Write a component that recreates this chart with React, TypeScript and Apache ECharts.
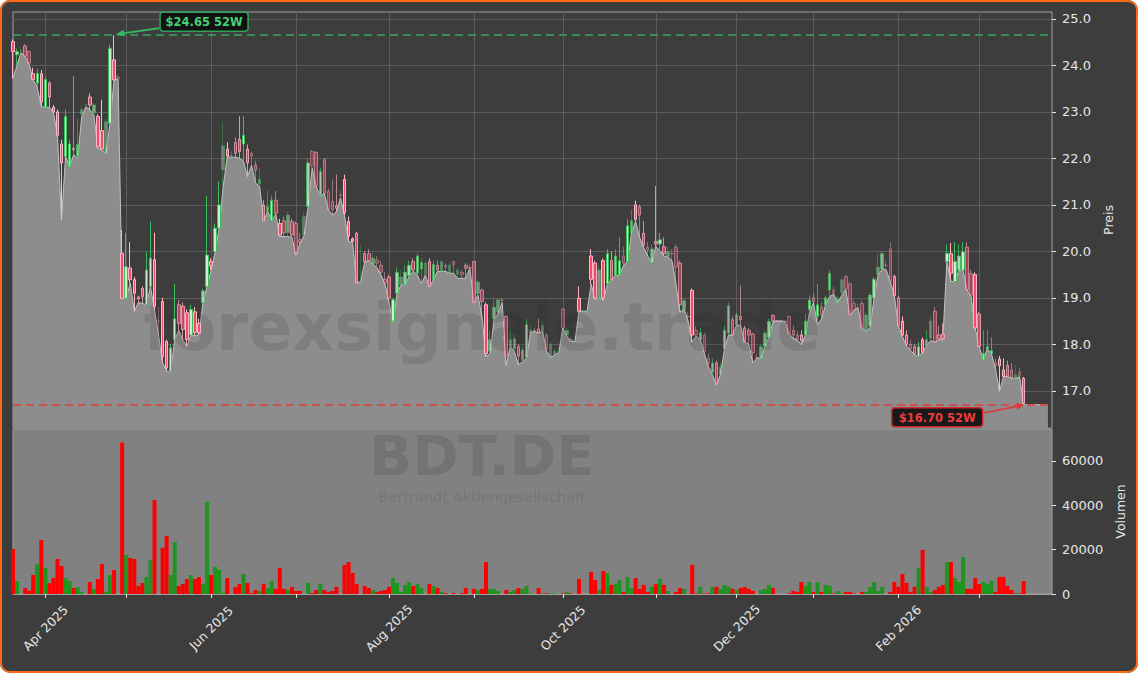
import React, { useEffect, useRef } from 'react';
import * as echarts from 'echarts';

// ---------- data ----------
const START_DATE = '2025-03-20';
const HOLIDAYS = ['2025-04-18', '2025-04-21', '2025-05-01', '2025-12-24', '2025-12-25', '2025-12-26', '2025-12-31', '2026-01-01'];
const FUTURE_SLOTS = 7;
const MONTHS = ['Jan', 'Feb', 'Mar', 'Apr', 'May', 'Jun', 'Jul', 'Aug', 'Sep', 'Oct', 'Nov', 'Dec'];
const priceTicks = [17, 18, 19, 20, 21, 22, 23, 24, 25];
const volumeTicks = [0, 20000, 40000, 60000];

const opens = [
  24.51, 24.23, 24.32, 24.42, 24.30, 23.82, 23.62, 23.82, 23.10, 23.62,
  23.10, 23.00, 22.31, 22.04, 21.82, 22.22, 22.05, 22.95, 23.15, 23.32,
  22.98, 22.90, 22.60, 22.11, 22.76, 24.12, 23.75, 19.96, 18.99, 19.64,
  19.39, 19.02, 19.20, 18.85, 19.24, 19.82, 18.50, 18.92, 18.06, 17.42,
  18.10, 18.85, 18.82, 18.68, 18.20, 18.70, 18.45, 18.90, 19.24, 19.78,
  19.99, 20.50, 21.75, 22.20, 22.06, 22.34, 22.41, 22.31, 22.20, 22.11,
  21.86, 21.45, 20.99, 20.86, 20.66, 21.10, 20.60, 20.66, 20.40, 20.64,
  20.60, 20.25, 20.35, 20.97, 22.15, 22.13, 21.22, 21.97, 21.29, 21.07,
  20.98, 21.22, 21.55, 20.64, 20.27, 20.39, 19.55, 19.95, 19.95, 19.72,
  19.81, 19.70, 19.40, 19.45, 18.50, 19.10, 19.28, 19.30, 19.48, 19.78,
  19.53, 19.62, 19.50, 19.78, 19.39, 19.70, 19.57, 19.70, 19.53, 19.78,
  19.50, 19.55, 19.70, 19.66, 19.78, 19.09, 19.17, 18.85, 17.85, 18.55,
  18.70, 18.95, 18.60, 17.95, 17.90, 17.95, 17.65, 17.72, 18.25, 18.30,
  18.33, 18.28, 18.20, 17.72, 17.80, 17.85, 18.76, 18.20, 18.10, 18.08,
  18.99, 18.72, 18.72, 19.90, 19.75, 19.00, 19.80, 19.30, 19.80, 19.48,
  19.50, 19.90, 19.78, 20.39, 21.00, 20.96, 20.39, 20.09, 19.76, 20.21,
  20.16, 20.10, 19.89, 19.95, 20.09, 19.75, 18.75, 18.60, 19.16, 18.30,
  18.10, 18.20, 17.70, 17.40, 17.60, 17.35, 17.90, 18.24, 18.53, 18.42,
  18.60, 18.35, 18.30, 18.22, 17.72, 17.70, 17.96, 18.15, 18.62, 18.51,
  18.51, 18.50, 18.60, 18.30, 18.20, 18.20, 18.20, 18.75, 19.00, 18.60,
  18.80, 18.85, 19.17, 19.17, 18.90, 19.11, 19.46, 19.30, 18.88, 18.85,
  18.88, 18.30, 18.40, 19.00, 19.50, 19.62, 19.70, 20.05, 19.46, 19.00,
  18.50, 18.20, 18.00, 17.95, 17.74, 18.10, 17.98, 18.13, 18.71, 18.20,
  18.22, 19.78, 19.95, 19.35, 19.60, 19.60, 20.09, 19.52, 19.50, 18.65,
  17.67, 17.90, 17.80, 17.60, 17.68, 17.45, 17.55, 17.45, 17.27, 17.40,
  17.27,
];

const closes = [
  24.30, 24.30, 24.32, 24.20, 24.05, 23.70, 23.83, 23.22, 23.70, 23.32,
  23.00, 22.50, 21.90, 22.90, 22.31, 22.18, 22.30, 23.05, 23.15, 23.15,
  23.15, 22.25, 22.20, 22.79, 24.37, 23.69, 23.72, 18.99, 19.67, 19.39,
  19.10, 18.98, 19.03, 19.60, 19.85, 18.82, 18.50, 17.74, 17.49, 17.92,
  18.55, 18.45, 18.32, 18.10, 18.75, 18.25, 18.25, 19.15, 19.92, 19.69,
  20.50, 21.00, 22.27, 22.05, 22.05, 22.11, 22.15, 22.50, 21.90, 22.05,
  21.75, 21.55, 20.66, 20.96, 21.10, 20.82, 20.35, 20.40, 20.78, 20.35,
  19.95, 20.20, 20.75, 21.90, 21.84, 21.40, 21.72, 21.25, 20.90, 20.90,
  20.93, 21.20, 20.83, 20.33, 20.22, 19.32, 19.55, 19.78, 19.80, 19.85,
  19.75, 19.55, 19.32, 19.00, 18.96, 19.55, 19.45, 19.55, 19.70, 19.60,
  19.90, 19.76, 19.75, 19.25, 19.72, 19.60, 19.78, 19.66, 19.71, 19.72,
  19.60, 19.50, 19.64, 19.64, 18.90, 19.34, 18.92, 17.80, 18.10, 18.80,
  18.96, 18.95, 17.75, 18.10, 18.12, 17.75, 17.88, 18.42, 18.31, 18.30,
  18.25, 18.40, 17.90, 17.99, 17.85, 17.85, 18.35, 18.30, 18.06, 18.08,
  18.71, 18.72, 18.72, 19.40, 19.00, 19.60, 19.00, 19.95, 19.39, 19.90,
  19.80, 19.75, 20.55, 20.66, 20.69, 20.78, 20.14, 20.03, 20.05, 20.16,
  20.25, 19.95, 19.99, 19.95, 19.66, 18.85, 18.94, 18.60, 18.20, 18.20,
  18.25, 17.85, 17.60, 17.60, 17.15, 17.50, 18.30, 18.83, 18.20, 18.64,
  18.53, 18.05, 18.20, 17.82, 17.72, 17.95, 18.24, 18.49, 18.51, 18.50,
  18.50, 18.49, 18.23, 18.20, 18.12, 18.08, 18.50, 18.95, 18.92, 18.85,
  18.63, 19.00, 19.53, 19.10, 18.99, 19.39, 19.19, 18.63, 18.73, 18.85,
  18.35, 18.63, 19.06, 19.40, 19.66, 19.95, 19.70, 19.35, 19.05, 18.40,
  18.20, 18.00, 17.90, 17.80, 17.95, 17.82, 18.10, 18.50, 18.05, 18.12,
  18.12, 19.96, 19.53, 19.78, 19.90, 19.99, 19.17, 19.06, 18.35, 17.95,
  17.80, 17.95, 17.86, 17.55, 17.54, 17.31, 17.31, 17.28, 17.35, 17.32,
  16.73,
];

const lows = [
  23.72, 24.00, 24.28, 24.19, 24.03, 23.69, 23.54, 23.11, 23.10, 23.10,
  23.00, 22.50, 20.68, 22.04, 21.82, 22.08, 22.00, 22.90, 23.11, 23.05,
  22.94, 22.22, 22.18, 22.11, 22.76, 23.69, 23.70, 18.99, 18.99, 19.32,
  18.71, 18.90, 18.88, 18.85, 19.24, 18.74, 18.20, 17.60, 17.42, 17.42,
  18.10, 18.30, 18.10, 17.95, 18.20, 18.18, 18.22, 18.90, 19.24, 19.60,
  19.99, 20.50, 21.40, 22.04, 22.02, 22.03, 22.00, 21.95, 21.61, 21.85,
  21.47, 21.40, 20.66, 20.86, 20.66, 20.80, 20.32, 20.32, 20.32, 20.30,
  19.92, 20.18, 20.34, 20.96, 21.80, 21.40, 21.18, 21.25, 20.90, 20.78,
  20.85, 21.15, 20.78, 20.21, 20.20, 19.32, 19.35, 19.78, 19.80, 19.72,
  19.65, 19.50, 19.30, 18.90, 18.46, 19.10, 19.28, 19.28, 19.46, 19.57,
  19.50, 19.30, 19.49, 19.24, 19.39, 19.57, 19.57, 19.57, 19.53, 19.53,
  19.42, 19.42, 19.42, 19.64, 18.89, 19.06, 18.60, 17.74, 17.80, 18.53,
  18.67, 18.90, 17.55, 17.95, 17.85, 17.56, 17.62, 17.70, 18.25, 18.28,
  18.24, 18.28, 17.85, 17.72, 17.78, 17.82, 18.35, 18.18, 18.06, 18.06,
  18.71, 18.71, 18.71, 19.30, 18.96, 19.00, 18.95, 19.28, 19.39, 19.48,
  19.48, 19.70, 19.78, 20.39, 20.65, 20.30, 20.08, 19.90, 19.76, 20.10,
  20.02, 19.90, 19.88, 19.80, 19.30, 18.70, 18.75, 18.50, 18.05, 18.18,
  18.10, 17.80, 17.52, 17.35, 17.12, 17.35, 17.90, 18.20, 18.20, 18.42,
  18.40, 18.05, 18.00, 17.60, 17.70, 17.70, 17.96, 18.15, 18.49, 18.50,
  18.50, 18.49, 18.23, 18.13, 18.10, 17.99, 18.20, 18.67, 18.90, 18.42,
  18.55, 18.85, 19.03, 19.08, 18.90, 19.05, 19.19, 18.63, 18.73, 18.80,
  18.35, 18.28, 18.35, 19.00, 19.50, 19.62, 19.60, 19.35, 19.05, 18.40,
  18.17, 17.97, 17.87, 17.78, 17.74, 17.82, 17.98, 18.08, 18.05, 18.10,
  18.10, 19.78, 19.35, 19.35, 19.60, 19.60, 19.17, 19.03, 18.35, 17.95,
  17.67, 17.90, 17.80, 17.49, 16.99, 17.30, 17.31, 17.27, 17.27, 17.30,
  16.70,
];

const highs = [
  24.56, 24.36, 24.40, 24.46, 24.32, 23.95, 23.92, 23.90, 23.76, 23.66,
  23.15, 23.05, 22.40, 23.05, 22.40, 23.77, 22.85, 23.10, 23.20, 23.40,
  23.20, 22.95, 23.26, 22.85, 24.45, 24.65, 23.80, 20.46, 20.40, 20.20,
  19.45, 19.05, 19.25, 19.99, 20.64, 20.40, 18.80, 19.00, 18.10, 18.00,
  19.30, 18.95, 18.90, 18.75, 18.85, 18.80, 18.55, 19.20, 21.20, 19.85,
  20.60, 21.50, 22.79, 22.35, 22.15, 22.45, 22.91, 22.91, 22.30, 22.15,
  21.95, 21.80, 21.10, 21.30, 21.20, 21.30, 20.70, 20.75, 20.85, 20.70,
  20.65, 20.40, 20.85, 22.00, 22.18, 22.15, 21.80, 22.00, 21.35, 21.55,
  21.65, 21.30, 21.65, 20.75, 20.30, 20.42, 20.15, 20.00, 20.05, 19.95,
  19.90, 19.80, 19.55, 19.50, 19.00, 19.65, 19.60, 19.70, 19.80, 19.85,
  19.95, 19.85, 19.80, 19.85, 19.80, 19.80, 19.80, 19.75, 19.78, 19.80,
  19.65, 19.60, 19.75, 19.72, 19.80, 19.40, 19.20, 18.90, 18.30, 19.00,
  19.00, 19.00, 18.63, 18.30, 18.20, 18.00, 17.95, 18.55, 18.40, 18.35,
  18.55, 18.50, 18.25, 18.05, 17.90, 17.90, 18.78, 18.35, 18.15, 18.12,
  19.25, 18.75, 18.75, 20.05, 19.80, 19.70, 19.85, 20.05, 20.00, 20.05,
  20.30, 20.10, 20.70, 20.90, 21.09, 21.00, 20.65, 20.20, 20.15, 21.41,
  20.40, 20.30, 20.10, 20.05, 20.15, 19.80, 19.00, 18.70, 19.20, 18.40,
  18.35, 18.25, 17.80, 17.70, 17.65, 17.60, 18.40, 18.90, 18.60, 18.70,
  19.26, 18.40, 18.35, 18.25, 17.80, 18.00, 18.30, 18.55, 18.65, 18.52,
  18.52, 18.51, 18.62, 18.40, 18.30, 18.30, 18.65, 19.05, 19.10, 19.30,
  18.90, 19.05, 19.60, 19.25, 19.05, 19.45, 19.50, 19.35, 18.95, 18.90,
  18.95, 18.70, 19.10, 19.45, 19.95, 20.00, 19.80, 20.19, 19.50, 19.05,
  18.60, 18.30, 18.10, 18.00, 18.05, 18.15, 18.30, 18.60, 18.80, 18.40,
  18.45, 20.15, 20.18, 20.20, 20.15, 20.20, 20.20, 19.60, 19.55, 18.70,
  18.30, 18.31, 18.15, 17.70, 17.75, 17.70, 17.65, 17.60, 17.55, 17.50,
  17.30,
];

const volumes = [
  20300, 5900, 0, 2700, 1500, 8600, 13500, 24400, 11700, 4800,
  7200, 15800, 12600, 7200, 5900, 2700, 3200, 900, 0, 5400,
  2300, 6800, 13500, 900, 8600, 10800, 0, 68300, 17600, 16200,
  15800, 3600, 5000, 7700, 15300, 42400, 0, 20800, 26200, 8600,
  23500, 3600, 4500, 6800, 8600, 6800, 7700, 4500, 41500, 8600,
  12200, 10800, 600, 7200, 0, 3200, 4500, 9000, 5000, 450,
  1800, 1350, 4500, 2700, 5900, 2300, 11700, 2300, 1800, 3200,
  1350, 1350, 0, 5000, 450, 1800, 4500, 1800, 900, 1350,
  3200, 0, 13100, 14400, 9500, 4500, 0, 3600, 2700, 1800,
  900, 1350, 1800, 3200, 7200, 5000, 900, 4100, 5400, 3600,
  4500, 2700, 0, 4500, 3600, 2700, 900, 450, 0, 450,
  0, 450, 2700, 0, 2300, 1800, 2300, 14400, 2300, 2300,
  1350, 0, 1800, 900, 1800, 2700, 2300, 3600, 300, 0,
  2700, 300, 400, 300, 300, 0, 300, 900, 300, 0,
  6800, 0, 0, 9900, 6300, 1800, 10400, 9500, 4100, 4500,
  6300, 900, 7700, 2700, 7200, 2300, 4100, 900, 3200, 4500,
  6800, 4100, 1350, 0, 900, 2700, 2300, 0, 13100, 300,
  3200, 300, 300, 3200, 3200, 2300, 4100, 3200, 2300, 1800,
  2700, 3200, 2300, 1350, 0, 1800, 2300, 4100, 2700, 0,
  0, 0, 300, 1350, 900, 5400, 3600, 5400, 900, 5400,
  900, 4100, 3600, 300, 1350, 300, 900, 900, 300, 0,
  900, 900, 3200, 5400, 1350, 3200, 0, 900, 5400, 3200,
  9000, 5000, 900, 3200, 11700, 19900, 3200, 900, 1800, 3200,
  4100, 14400, 14400, 7200, 5400, 16700, 2300, 2300, 7200, 4500,
  5400, 4500, 5900, 900, 7700, 7700, 3600, 1800, 450, 300,
  5900,
];

// last quote carried to the right edge of the price panel
const areaTail = [null, null, null, null, null, 16.70];

// ---------- styles ----------
const FONT = '"DejaVu Sans", "Noto Sans", sans-serif';
const TEXT = '#e6e6e6';
const GRID_LINE = '#5c5c5c';
const FRAME = '#a0a0a0';
const UP_FILL = '#cfeecf';
const UP_BORDER = '#3cbf5a';
const DOWN_FILL = '#f24d6e';
const DOWN_BORDER = '#ffb8c6';
const VOL_UP = '#1f941f';
const VOL_DOWN = '#ff0000';
const WATERMARK = 'rgba(40,40,40,0.15)';

function buildTradingDays(start: string, count: number, holidays: string[]) {
  const out: string[] = [];
  const d = new Date(start + 'T00:00:00Z');
  while (out.length < count) {
    const wd = d.getUTCDay();
    const s = d.toISOString().slice(0, 10);
    if (wd !== 0 && wd !== 6 && holidays.indexOf(s) < 0) out.push(s);
    d.setUTCDate(d.getUTCDate() + 1);
  }
  return out;
}

export default function App() {
  const ref = useRef<HTMLDivElement>(null);

  useEffect(() => {
    document.body.style.margin = '0';
    if (!ref.current) return;
    const chart = echarts.init(ref.current, null, { renderer: 'svg' });

    const dates = buildTradingDays(START_DATE, opens.length + FUTURE_SLOTS, HOLIDAYS);
    const monthStart = new Set<number>();
    for (let i = 1; i < dates.length; i++) {
      if (dates[i].slice(5, 7) !== dates[i - 1].slice(5, 7)) monthStart.add(i);
    }
    const isMonthStart = (i: number) => monthStart.has(i);
    const isLabelMonth = (i: number) => monthStart.has(i) && (parseInt(dates[i].slice(5, 7), 10) - 1) % 2 === 1;

    const candleData = opens.map((o, i) => {
      const c = closes[i];
      const v = volumes[i];
      return {
        value: [o, c, Math.min(lows[i], o, c), Math.max(highs[i], o, c)],
        itemStyle: { opacity: 0.32 + 0.68 * Math.min(1, v / 7000) },
      };
    });
    const volData = volumes.map((v, i) => ({
      value: v,
      itemStyle: { color: closes[i] >= opens[i] ? VOL_UP : VOL_DOWN },
    }));
    const areaData = [...lows, ...areaTail];

    const hiVal = Math.max(...highs);
    const hiIdx = highs.indexOf(hiVal);
    const loVal = Math.min(...lows);
    const loIdx = lows.indexOf(loVal);

    chart.setOption({
      animation: false,
      backgroundColor: 'transparent',
      textStyle: { fontFamily: FONT },
      grid: [
        { left: 13, right: 86, top: 12, height: 416, show: true, borderColor: FRAME, borderWidth: 1, backgroundColor: 'transparent', outerBoundsMode: 'none' },
        { left: 13, right: 86, top: 429, height: 165, show: true, borderColor: FRAME, borderWidth: 1, backgroundColor: '#818181', outerBoundsMode: 'none' },
      ],
      xAxis: [
        {
          type: 'category', gridIndex: 0, data: dates, boundaryGap: false,
          axisLine: { show: false }, axisTick: { show: false }, axisLabel: { show: false },
          splitLine: { show: true, interval: (i: number) => isMonthStart(i), lineStyle: { color: GRID_LINE, width: 1 } },
        },
        {
          type: 'category', gridIndex: 1, data: dates, boundaryGap: false,
          axisLine: { show: true, lineStyle: { color: FRAME } },
          axisTick: { show: true, interval: (i: number) => isMonthStart(i), length: 4, lineStyle: { color: TEXT } },
          axisLabel: {
            interval: (i: number) => isLabelMonth(i), rotate: 45, margin: 34, align: 'center', verticalAlign: 'middle',
            color: TEXT, fontSize: 12.5, fontFamily: FONT,
            formatter: (v: string) => MONTHS[parseInt(v.slice(5, 7), 10) - 1] + ' ' + v.slice(0, 4),
          },
          splitLine: { show: false },
        },
      ],
      yAxis: [
        {
          type: 'value', gridIndex: 0, position: 'right', min: 16.2, max: 25.15, scale: true,
          axisLine: { show: false },
          axisTick: { show: true, customValues: priceTicks, length: 4, lineStyle: { color: TEXT } },
          axisLabel: { customValues: priceTicks, formatter: (v: number) => v.toFixed(1), color: TEXT, fontSize: 13, margin: 10, fontFamily: FONT },
          splitLine: { show: true, lineStyle: { color: GRID_LINE, width: 1 } },
          name: 'Preis', nameLocation: 'middle', nameRotate: 90, nameGap: 48,
          nameTextStyle: { color: TEXT, fontSize: 12.5, fontFamily: FONT },
        },
        {
          type: 'value', gridIndex: 1, position: 'right', min: 0, max: 74400,
          axisLine: { show: false },
          axisTick: { show: true, customValues: volumeTicks, length: 4, lineStyle: { color: TEXT } },
          axisLabel: { customValues: volumeTicks, formatter: (v: number) => String(v), color: TEXT, fontSize: 13, margin: 10, fontFamily: FONT },
          splitLine: { show: false },
          name: 'Volumen', nameLocation: 'middle', nameRotate: 90, nameGap: 60,
          nameTextStyle: { color: TEXT, fontSize: 12.5, fontFamily: FONT },
        },
      ],
      series: [
        {
          type: 'line', name: 'area', xAxisIndex: 0, yAxisIndex: 0, data: areaData,
          symbol: 'none', showSymbol: false, connectNulls: true, silent: true, z: 1,
          lineStyle: { color: '#c2c2c2', width: 1 },
          areaStyle: { color: '#8d8d8d', opacity: 1, origin: 'start' },
        },
        {
          type: 'candlestick', name: 'BDT.DE', xAxisIndex: 0, yAxisIndex: 0, data: candleData,
          barWidth: 3, z: 5,
          itemStyle: { color: UP_FILL, color0: DOWN_FILL, borderColor: UP_BORDER, borderColor0: DOWN_BORDER, borderWidth: 1 },
          markLine: {
            silent: true, symbol: ['none', 'none'], label: { show: false },
            data: [
              { yAxis: hiVal, lineStyle: { color: '#36a85e', type: [8, 5], width: 1.5 } },
              { yAxis: loVal, lineStyle: { color: '#e03c3c', type: [8, 5], width: 1.5 } },
            ],
          },
        },
        {
          type: 'bar', name: 'Volumen', xAxisIndex: 1, yAxisIndex: 1, data: volData, barWidth: 4, z: 3,
        },
      ],
    });

    const hp = chart.convertToPixel({ xAxisIndex: 0, yAxisIndex: 0 }, [hiIdx, hiVal]) as number[];
    const lp = chart.convertToPixel({ xAxisIndex: 0, yAxisIndex: 0 }, [loIdx, loVal]) as number[];

    const arrow = (sx: number, sy: number, tx: number, ty: number, color: string, id: string) => {
      const dx = tx - sx, dy = ty - sy;
      const len = Math.sqrt(dx * dx + dy * dy) || 1;
      const ux = dx / len, uy = dy / len;
      const bx = tx - ux * 8, by = ty - uy * 8;
      const px = -uy * 3.5, py = ux * 3.5;
      return [
        { type: 'line', id: id + '-l', z: 20, shape: { x1: sx, y1: sy, x2: bx, y2: by }, style: { stroke: color, lineWidth: 1.8 } },
        { type: 'polygon', id: id + '-h', z: 20, shape: { points: [[tx, ty], [bx + px, by + py], [bx - px, by - py]] }, style: { fill: color } },
      ];
    };

    const label = (x: number, y: number, w: number, h: number, text: string, color: string, border: string, id: string) => [
      { type: 'rect', id: id + '-b', z: 21, shape: { x, y, width: w, height: h, r: 3 }, style: { fill: 'rgba(12,12,12,0.9)', stroke: border, lineWidth: 1.5 } },
      {
        type: 'text', id: id + '-t', z: 22,
        style: { text, x: x + w / 2, y: y + h / 2 + 0.5, fill: color, font: 'bold 11.5px ' + FONT, textAlign: 'center', textVerticalAlign: 'middle', align: 'center', verticalAlign: 'middle' },
      },
    ];

    const hiBox = { x: hp[0] + 46, y: hp[1] - 23, w: 88, h: 19 };
    const loBox = { x: lp[0] - 132, y: lp[1] + 3, w: 91, h: 19 };

    const wm = (id: string, text: string, x: number, y: number, font: string, lh: number, z: number) => ({
      type: 'text', id, z, silent: true,
      style: { text, x, y, fill: WATERMARK, font, lineHeight: lh, textAlign: 'center', textVerticalAlign: 'middle', align: 'center', verticalAlign: 'middle' },
    });

    chart.setOption({
      graphic: [
        wm('wm1', 'forexsignale.trade', 482, 327, 'bold 65px ' + FONT, 65, 3),
        wm('wm2', 'BDT.DE', 482, 455, 'bold 56px ' + FONT, 50, 4),
        wm('wm3', 'Bertrandt Aktiengesellschaft', 482, 497, '14.5px ' + FONT, 15, 4),
        ...arrow(hiBox.x - 1, hiBox.y + 16, hp[0] + 2, hp[1] - 1, '#36b864', 'ha'),
        ...label(hiBox.x, hiBox.y, hiBox.w, hiBox.h, '$' + hiVal.toFixed(2) + ' 52W', '#44d075', '#2fa35a', 'hl'),
        ...arrow(loBox.x + loBox.w + 1, loBox.y + 5, lp[0] + 1, lp[1], '#e23a3a', 'la'),
        ...label(loBox.x, loBox.y, loBox.w, loBox.h, '$' + loVal.toFixed(2) + ' 52W', '#ee3b3b', '#d42a2a', 'll'),
      ],
    });

    return () => chart.dispose();
  }, []);

  return (
    <div style={{ position: 'fixed', left: 0, top: 0, width: 1138, height: 673, background: '#3d3d3d', borderRadius: 10, overflow: 'hidden' }}>
      <div ref={ref} style={{ position: 'absolute', left: 0, top: 0, width: 1138, height: 673 }} />
      <div style={{ position: 'absolute', left: 0, top: 0, right: 0, bottom: 0, border: '2px solid #ff6a13', borderRadius: 10, pointerEvents: 'none' }} />
    </div>
  );
}
